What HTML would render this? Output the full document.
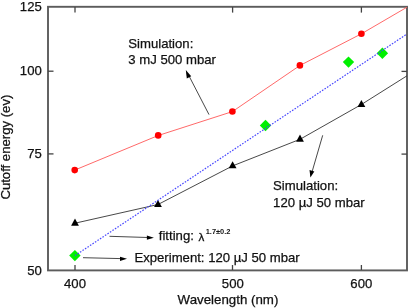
<!DOCTYPE html>
<html><head><meta charset="utf-8">
<style>
html,body{margin:0;padding:0;background:#fff;width:410px;height:308px;overflow:hidden}
svg{display:block;will-change:transform}
text{font-family:"Liberation Sans",sans-serif;font-size:13.15px;fill:#111;stroke:#111;stroke-width:0.25px}
</style></head><body>
<svg width="410" height="308" viewBox="0 0 410 308">
<!-- frame -->
<rect x="48" y="6.8" width="359" height="263.6" fill="none" stroke="#5c5c5c" stroke-width="1.9"/>
<!-- ticks -->
<g stroke="#444" stroke-width="1.3">
<line x1="75" y1="7" x2="75" y2="12.6"/>
<line x1="232.6" y1="7" x2="232.6" y2="12.6"/>
<line x1="361.4" y1="7" x2="361.4" y2="12.6"/>
<line x1="75" y1="270" x2="75" y2="265"/>
<line x1="232.5" y1="270" x2="232.5" y2="265"/>
<line x1="361.4" y1="270" x2="361.4" y2="265"/>
<line x1="48" y1="71.2" x2="53.5" y2="71.2"/>
<line x1="48" y1="153.9" x2="53.5" y2="153.9"/>
<line x1="407" y1="71.4" x2="401.5" y2="71.4"/>
<line x1="407" y1="154.1" x2="401.5" y2="154.1"/>
</g>
<!-- tick labels -->
<text x="41.8" y="10.7" text-anchor="end">125</text>
<text x="41.8" y="75.2" text-anchor="end">100</text>
<text x="41.8" y="157.9" text-anchor="end">75</text>
<text x="41.8" y="274.5" text-anchor="end">50</text>
<text x="75" y="287.5" text-anchor="middle">400</text>
<text x="232.8" y="287.5" text-anchor="middle">500</text>
<text x="361.3" y="287.5" text-anchor="middle">600</text>
<!-- axis labels -->
<text x="177.6" y="304.3" style="font-size:13.3px">Wavelength (nm)</text>
<text transform="translate(10.4,199.6) rotate(-90)" style="font-size:13.15px">Cutoff energy (ev)</text>

<!-- red line -->
<polyline points="74.7,170.1 158.2,135.5 232.4,111.6 299.9,65.5 361.4,33.8 407,7.2" fill="none" stroke="#ff5858" stroke-width="0.9"/>
<g fill="#ff0000">
<circle cx="74.7" cy="170.1" r="3.3"/>
<circle cx="158.2" cy="135.4" r="3.3"/>
<circle cx="232.4" cy="111.5" r="3.3"/>
<circle cx="299.9" cy="65.4" r="3.3"/>
<circle cx="361.4" cy="33.7" r="3.3"/>
</g>
<!-- black line -->
<polyline points="75,223.2 158,204.5 232.6,165.9 300,139.3 361.4,104.5 407,75.8" fill="none" stroke="#333" stroke-width="0.9"/>
<g fill="#000">
<polygon points="75,218.6 71.1,225.7 78.9,225.7"/>
<polygon points="158,200 154.1,207.1 161.9,207.1"/>
<polygon points="232.6,161.2 228.7,168.3 236.5,168.3"/>
<polygon points="300,134.6 296.1,141.7 303.9,141.7"/>
<polygon points="361.4,100 357.5,107.1 365.3,107.1"/>
</g>
<!-- green diamonds -->
<g fill="#00f000">
<polygon points="74.9,249.9 80.6,255.6 74.9,261.3 69.2,255.6"/>
<polygon points="265.5,119.8 271.2,125.5 265.5,131.2 259.8,125.5"/>
<polygon points="348.5,56.4 354.2,62.1 348.5,67.8 342.8,62.1"/>
<polygon points="382.4,47.6 388.1,53.3 382.4,59 376.7,53.3"/>
</g>
<!-- blue fit -->
<line x1="75" y1="255.6" x2="407" y2="34" stroke="#4646ff" stroke-width="1.2" stroke-dasharray="1.6 1.4"/>
<!-- arrows -->
<g stroke="#333" stroke-width="0.9" fill="none">
<line x1="209" y1="114.6" x2="188" y2="74"/>
<line x1="322.7" y1="135.3" x2="312" y2="172"/>
<line x1="109.5" y1="236.3" x2="148" y2="237.5"/>
<line x1="83" y1="257.7" x2="121" y2="258.6"/>
</g>
<g fill="#000">
<polygon points="185.8,69.9 191.2,76.3 186.8,78.5"/>
<polygon points="310.4,177.6 309.5,170 314.3,171.4"/>
<polygon points="153.9,237.7 146.9,235.6 146.9,239.8"/>
<polygon points="127,258.8 120,256.7 120,260.9"/>
</g>
<!-- annotations -->
<text x="128.3" y="48">Simulation:</text>
<text x="128.3" y="64">3 mJ 500 mbar</text>
<text x="273.1" y="190.2">Simulation:</text>
<text x="273.1" y="206.7">120 µJ 50 mbar</text>
<text x="158.8" y="239.7">fitting:</text>
<text x="198.4" y="240.7" style="font-size:11.6px;stroke:#111;stroke-width:0.3px">λ</text>
<text x="205.7" y="233.5" style="font-size:7.45px;font-weight:bold;stroke-width:0">1.7±0.2</text>
<text x="134.4" y="262.1">Experiment: 120 µJ 50 mbar</text>
</svg>
</body></html>
